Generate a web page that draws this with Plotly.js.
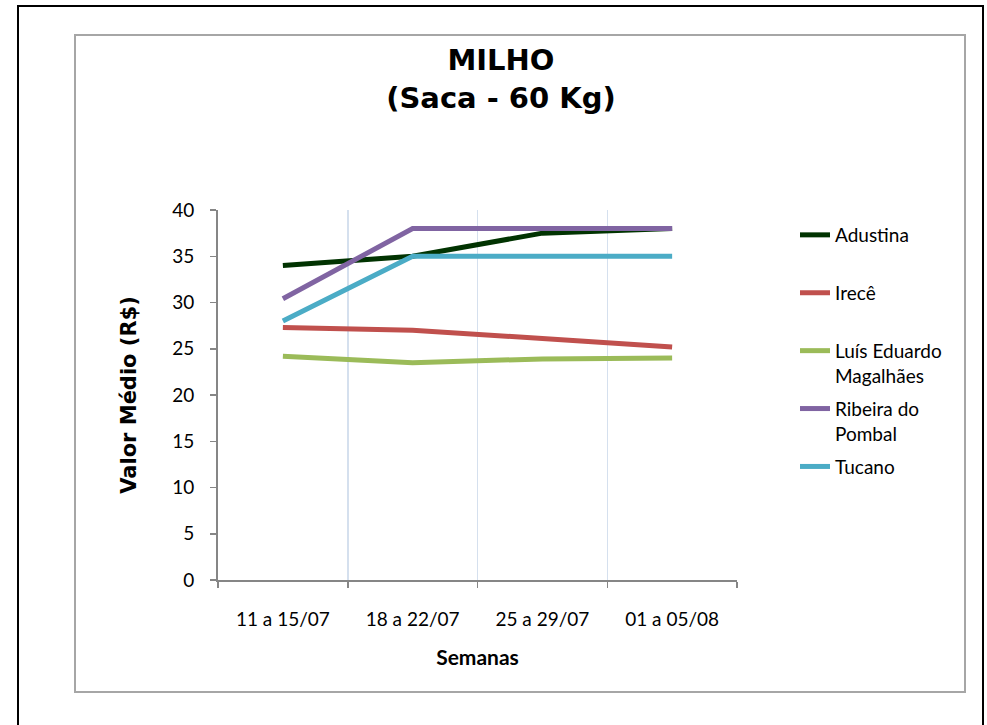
<!DOCTYPE html>
<html>
<head>
<meta charset="utf-8">
<script src="https://cdn.plot.ly/plotly-3.0.1.min.js"></script>
<style>
  html, body { margin: 0; padding: 0; background: #ffffff; }
  #wrap { position: relative; width: 987px; height: 725px; overflow: hidden; }
  #chart { position: absolute; left: 0; top: 0; width: 987px; height: 725px; }
  .outer { position: absolute; left: 17px; top: 5px; width: 963px; height: 740px; border: 2px solid #000; pointer-events: none; }
  .inner { position: absolute; left: 74px; top: 34px; width: 888px; height: 655px; border: 2px solid #a6a6a6; pointer-events: none; }
</style>
</head>
<body>
<div id="wrap">
  <div class="outer"></div>
  <div class="inner"></div>
  <div id="chart"></div>
</div>
<script>
var categories = ['11 a 15/07', '18 a 22/07', '25 a 29/07', '01 a 05/08'];
var seriesNames = ['Adustina', 'Irecê', 'Luís Eduardo<br>Magalhães', 'Ribeira do<br>Pombal', 'Tucano'];
var adustina = [34.0, 35.0, 37.5, 38.0];
var irece = [27.3, 27.0, 26.1, 25.2];
var luisEduardo = [24.2, 23.5, 23.9, 24.0];
var ribeira = [30.4, 38.0, 38.0, 38.0];
var tucano = [28.0, 35.0, 35.0, 35.0];
var colors = ['#013301', '#C0504D', '#9BBB59', '#8064A2', '#4BACC6'];
var yTicks = [0, 5, 10, 15, 20, 25, 30, 35, 40];

var values = [adustina, irece, luisEduardo, ribeira, tucano];
var traces = values.map(function (v, i) {
  var nm = seriesNames[i].indexOf('<br>') >= 0 ? seriesNames[i] : seriesNames[i] + '<br>\u00a0';
  return {
    type: 'scatter', mode: 'lines', x: categories, y: v, name: nm,
    legendgroup: 'g' + i,
    line: { color: colors[i], width: 5 }
  };
});

var layout = {
  width: 987, height: 725,
  paper_bgcolor: 'rgba(0,0,0,0)', plot_bgcolor: 'rgba(0,0,0,0)',
  margin: { l: 218, r: 250, t: 210, b: 145, pad: 0 },
  title: {
    text: '<b>MILHO<br>(Saca - 60 Kg)</b>',
    font: { family: 'DejaVu Sans', size: 29, color: '#000' },
    x: 501 / 987, xanchor: 'center', xref: 'container',
    y: 1 - 70 / 725, yanchor: 'top', yref: 'container'
  },
  xaxis: {
    type: 'category', range: [-0.5, 3.5],
    tickson: 'boundaries', ticks: 'outside', ticklen: 6, tickwidth: 1.5, tickcolor: '#868686',
    showgrid: true, gridcolor: '#d5e0ee', gridwidth: 1.5,
    showline: true, linecolor: '#868686', linewidth: 2,
    tickfont: { family: 'Lato', size: 19, color: '#000' },
    ticklabelstandoff: 21,
    title: { text: '<b>Semanas</b>', font: { family: 'Lato', size: 21, color: '#000' }, standoff: 22 },
    fixedrange: true
  },
  yaxis: {
    range: [0, 40], tickvals: yTicks, ticktext: yTicks.map(String),
    ticks: 'outside', ticklen: 6, tickwidth: 1.5, tickcolor: '#868686',
    showgrid: false, zeroline: false,
    showline: true, linecolor: '#868686', linewidth: 2,
    tickfont: { family: 'Lato', size: 19, color: '#000' },
    ticklabelstandoff: 12,
    title: { text: '<b>Valor Médio (R$)</b>', font: { family: 'DejaVu Sans', size: 21, color: '#000' }, standoff: 30 },
    fixedrange: true
  },
  showlegend: true,
  legend: {
    x: (795 - 218) / 519, xanchor: 'left',
    y: (580 - 216) / 370, yanchor: 'top',
    valign: 'top', tracegroupgap: 5.5,
    font: { family: 'Lato', size: 19, color: '#000' },
    bgcolor: 'rgba(0,0,0,0)', borderwidth: 0
  }
};

Plotly.newPlot('chart', traces, layout, { displayModeBar: false, staticPlot: true });
</script>
</body>
</html>
